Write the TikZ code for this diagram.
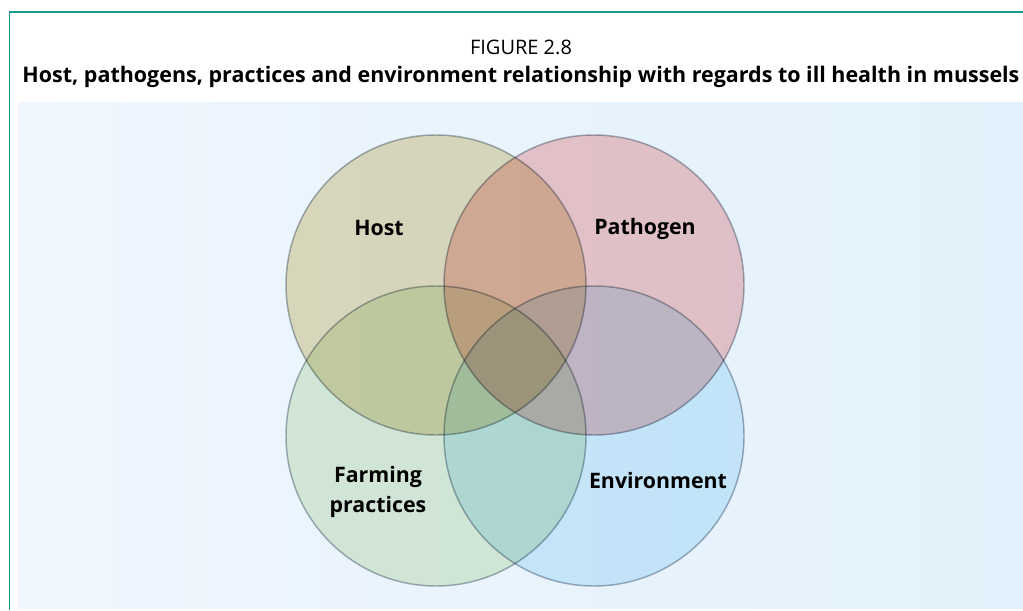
\documentclass[tikz,border=0pt]{standalone}
\usepackage{fontspec}
\setmainfont{Open Sans}
\usetikzlibrary{positioning}

\definecolor{rule}{RGB}{22,155,145}
\definecolor{panelL}{RGB}{239,246,254}
\definecolor{panelR}{RGB}{226,241,251}
\definecolor{rim}{RGB}{170,178,188}
\definecolor{hostcol}{RGB}{234,223,189}
\definecolor{pathcol}{RGB}{248,202,202}
\definecolor{farmcol}{RGB}{227,240,216}
\definecolor{envcol}{RGB}{216,240,251}

\begin{document}
\begin{tikzpicture}[x=0.75pt, y=-0.75pt,
    set/.style={circle, minimum size=225pt, inner sep=0pt,
      fill=#1, draw=rim, line width=1.1pt, blend mode=multiply},
    lbl/.style={font=\bfseries\fontsize{16}{19}\selectfont, inner sep=0pt, anchor=base},
    caption/.style={inner sep=0pt, anchor=base}]
  \useasboundingbox (0,0) rectangle (1023,610);
  \fill[white] (0,0) rectangle (1023,610);

  % frame and shaded panel
  \draw[rule, line width=1.1pt] (9.5,610) |- (1023,12);
  \fill[left color=panelL, right color=panelR] (18,102) rectangle (1023,608);

  % caption
  \node[caption, font=\bfseries\fontsize{16.1}{19}\selectfont] (title) at (521,83)
    {Host, pathogens, practices and environment relationship with regards to ill health in mussels};
  \node[caption, font=\fontsize{15}{18}\selectfont] (fignum) at (521,55) {FIGURE 2.8};

  % the four sets
  \node[set=hostcol] (host) at (436,285) {};
  \node[set=pathcol] (pathogen) at (594,285) {};
  \node[set=farmcol] (farming) at (436,436) {};
  \node[set=envcol] (environment) at (594,436) {};

  % labels
  \node[lbl] (hostlbl) at (379,235) {Host};
  \node[lbl] (pathlbl) at (645,234) {Pathogen};
  \node[lbl] (farmlbl) at (378,482) {Farming};
  \node[lbl] (praclbl) at (378,512) {practices};
  \node[lbl] (envlbl) at (658,488) {Environment};
\end{tikzpicture}
\end{document}
